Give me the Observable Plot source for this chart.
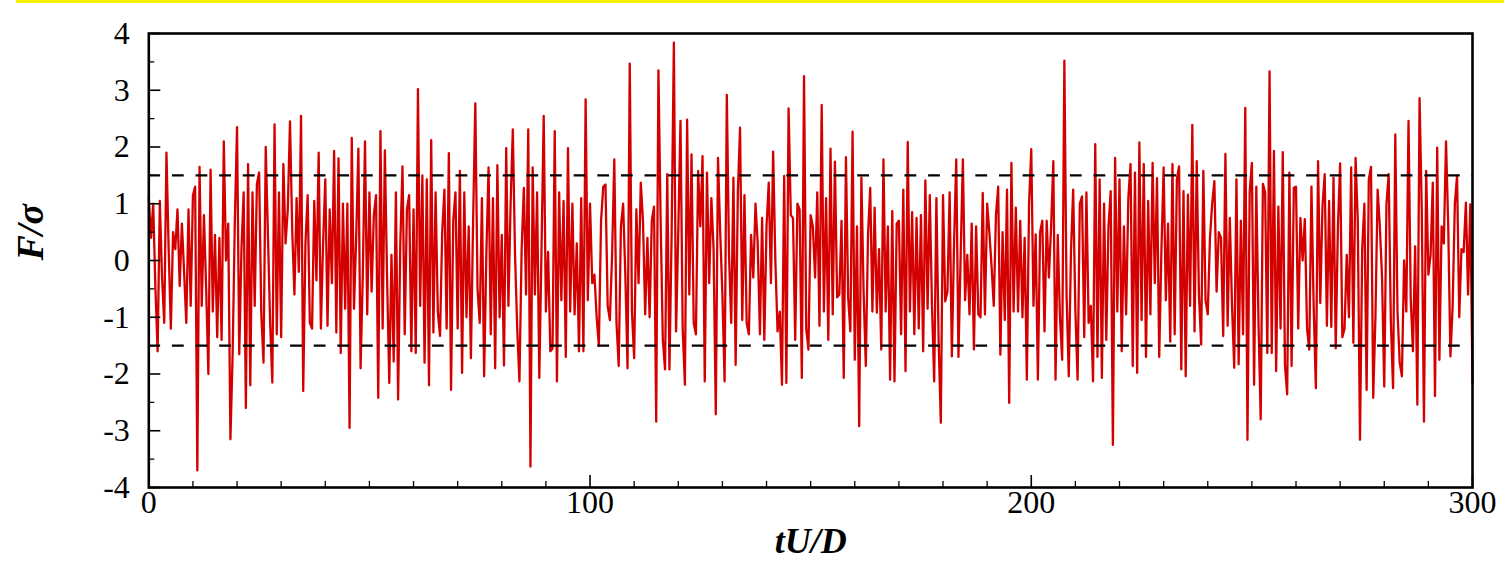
<!DOCTYPE html>
<html><head><meta charset="utf-8">
<script src="https://cdn.jsdelivr.net/npm/d3@7"></script>
<script src="https://cdn.jsdelivr.net/npm/@observablehq/plot@0.6"></script>
<style>
html,body{margin:0;padding:0;background:#fff;}
#wrap{position:relative;width:1504px;height:561px;overflow:hidden;background:#fff;}
#chart{position:absolute;left:0;top:0;}
#topline{position:absolute;left:16px;top:0;width:1488px;height:3px;background:#f3f000;z-index:2;}
</style></head><body>
<div id="wrap"><div id="chart"></div><div id="topline"></div></div>
<script>
// time step between samples (tU/D)
const dt = 0.5;
// F/sigma samples, t = 0 ... 300
const forceRatio = [
 1.1, 0.4, 1.0, -0.5, -1.6, 1.05, -0.3, -1.1, 1.9, 0.2,
 -1.2, 0.5, 0.2, 0.9, -0.45, 0.65, -0.2, -1.1, 0.9, -0.8,
 1.15, 1.3, -3.7, 1.65, -0.8, 0.8, -0.5, -2.0, 1.6, -0.9,
 0.45, -1.35, 0.4, -1.4, 2.1, 0.0, 0.65, -3.15, -1.65, 0.7,
 2.35, -1.65, 0.2, 1.2, -2.6, 1.7, -2.2, 1.2, -0.8, 1.35,
 1.55, -0.95, -1.8, 2.0, 0.45, -1.1, -2.15, 2.4, -1.3, 1.2,
 -1.35, 1.7, 0.3, 0.9, 2.45, 0.55, -0.6, 1.1, -0.2, 2.55,
 -2.3, 0.3, 1.15, -1.1,
 -1.2, 1.05, -0.35, 1.9, -1.2, 0.3, 1.43, -1.15, 0.9, -0.4,
 1.93, -1.27, 1.8, -1.63, 1.0, -0.85, 1.0, -2.95, 2.16, -0.85,
 0.4, 1.97, -1.9, -0.25, 2.1, -0.95, 1.2, -0.55, 0.8, 1.15,
 -2.42, 2.28, -1.2, 1.94, -0.3, -2.16, 0.1, -1.78, 1.2, -2.45,
 0.3, 1.66, -1.3, 0.9, 1.15, -1.6, 0.9, -1.63, 3.02, -0.8,
 1.5, -1.8, 1.43, -2.2, 2.12, -1.27, 1.2, -0.9, -1.33, 0.5,
 1.25, -1.2, 1.89, -2.28, 0.7, 1.2, -1.2, 1.58, -1.98, 1.2,
 -1.0, 0.6,
 -1.72, 0.7, 2.77, -0.5, -1.1, 1.1, -2.04, 0.1, 1.64, -1.3,
 1.1, -1.9, 1.68, -1.0, 0.45, -1.85, 1.98, -0.8, 1.0, 2.31,
 0.1, -1.2, -2.13, 0.2, 1.28, -0.6, 2.31, -3.63, 1.64, -0.6,
 1.2, -2.07, 0.2, 2.55, -0.9, 0.15, -1.6, -1.55, 2.28, -2.13,
 1.2, -0.7, 1.05, -1.7, 1.98, -0.9, 1.0, -0.95, 0.3, -1.6,
 1.1, -1.6, 2.84, -0.7, 1.0, -0.4, -0.25, -1.0, -1.5, 0.7,
 1.3, 1.34, -0.8, -1.05, 0.1, 1.78, -1.1, -1.86, 0.6, 1.0,
 -0.25, -1.9,
 3.47, -0.9, -1.72, 0.9, -0.4, 1.37, 0.7, -0.95, 0.4, -1.0,
 0.7, 0.95, -2.84, 3.35, 0.7, -1.4, -1.92, 1.52, -1.92, 0.5,
 3.84, -1.25, 0.5, 2.46, -1.2, -2.19, 2.48, -0.6, 1.87, -1.1,
 -1.3, 1.58, 0.6, 1.84, -2.13, 1.55, -0.4, 1.1, 0.2, -2.71,
 1.81, 0.5, -0.6, -2.13, 2.92, 0.1, -1.1, 1.46, -1.84, 1.2,
 2.34, -1.05, 1.15, -1.1, -1.3, 0.45, -0.3, 1.0, 0.3, -1.3,
 0.75, -1.4, 0.6, 1.37, -0.4, 1.92, 0.0, -1.25, -0.9, -2.19,
 1.49, -2.16,
 2.68, 0.8, 0.75, -1.4, 1.0, 0.9, -2.07, 3.25, -1.2, -1.57,
 0.8, 0.6, -0.3, 1.2, -1.15, 2.74, -0.9, 1.1, -1.4, 1.97,
 -0.95, 1.74, -0.65, -0.6, 0.7, -2.07, 1.82, -0.65, -1.25, 2.27,
 -1.75, 0.6, -2.92, 1.46, -0.55, -1.86, 0.45, 1.28, -0.9, 0.93,
 -0.92, 0.2, -1.57, 1.78, -0.9, 0.6, -2.1, 0.87, -2.13, 0.65,
 0.7, -1.3, 1.25, -1.95, 2.09, -0.9, 0.85, -1.3, 0.75, -1.2,
 0.8, -1.6, 1.41, -0.85, 1.15, -0.8, -2.13, 1.1, -1.4, -2.86,
 1.15, -0.72,
 -0.55, 1.2, -1.69, 0.3, 1.78, -1.7, 0.1, 1.78, -0.7, 0.1,
 -0.95, 0.65, -1.57, 0.6, -0.95, -1.0, 1.19, -0.95, 1.0, 0.5,
 -0.1, -0.8, 0.8, 1.3, -1.66, 0.5, -1.05, 1.25, -2.51, 1.72,
 -0.9, 0.93, -0.9, 0.7, -1.0, 0.4, -2.1, 1.0, 1.96, -0.8,
 0.46, -2.1, 0.5, 0.7, -1.25, 0.7, -0.3, 0.6, 1.75, -2.1,
 0.45, -1.0, -1.75, 3.52, -0.6, -2.04, 0.16, 1.25, -0.9, -2.1,
 1.0, 1.13, -1.35, 1.2, -1.1, -0.8, -2.13, 2.05, -1.7, 1.43,
 -2.07, 1.0,
 -1.4, 0.6, 1.22, -3.25, 1.81, -0.9, 1.43, -1.6, 0.6, -0.95,
 1.1, 1.7, -1.86, 1.55, -1.98, 2.08, -1.05, 1.7, -1.7, 1.05,
 -0.95, 1.72, -0.4, 1.45, -1.7, 0.2, 1.64, -0.7, 0.65, -1.43,
 1.7, -1.3, 1.43, 1.66, -1.92, 1.22, -2.04, 1.16, -0.8, 2.39,
 -1.25, 1.75, -0.6, -1.48, 1.58, -0.7, -0.95, 0.4, 1.0, 1.4,
 -0.55, 0.5, 0.4, -1.33, 1.88, -1.15, 0.75, -0.8, -1.89, 1.43,
 -1.83, 0.7, -1.3, 2.69, -3.16, 1.2, 1.72, -2.19, 1.3, -1.1,
 -2.8, 1.35,
 1.2, -1.63, 3.33, -1.63, 1.93, -1.95, 0.95, -1.2, 1.91, -1.85,
 -2.36, 1.55, -1.86, 1.28, 1.3, -1.2, 0.75, 0.0, 0.73, -1.2,
 -1.57, 1.3, -0.8, -2.25, 1.75, -0.75, 0.95, 1.52, -1.15, 1.05,
 -1.17, 1.46, -1.55, 0.6, 1.71, -1.35, -1.2, 0.1, -1.0, 1.64,
 -1.45, 1.81, 0.7, -3.16, 0.2, 1.0, -2.28, 1.43, 1.65, -2.42,
 -1.0, 1.25, 0.6, -0.3, -2.22, 1.0, 1.52, -1.1, -2.25, 2.22,
 -0.9, -1.8, -2.04, 0.0, -0.9, 2.46, -0.67, -1.6, 0.25, -2.54,
 2.86, 0.9,
 -2.84, 1.58, -0.25, 0.1, 1.37, -2.39, 1.99, -1.75, 0.6, 0.3,
 2.1, 0.6, -1.69, -0.8, 1.0, 1.49, -1.0, 0.2, 0.15, 1.02,
 -0.6, 0.99, -2.16
];
// dashed reference levels
const thresholds = [1.5, -1.5];
// axis ticks
const xMajorTicks = [0, 100, 200, 300];
const xMinorTicks = [10, 20, 30, 40, 50, 60, 70, 80, 90, 110, 120, 130, 140, 150, 160, 170, 180, 190,
                     210, 220, 230, 240, 250, 260, 270, 280, 290];
const yMajorTicks = [-4, -3, -2, -1, 0, 1, 2, 3, 4];
const yMinorTicks = [-3.5, -2.5, -1.5, -0.5, 0.5, 1.5, 2.5, 3.5];
const xTitle = "tU/D";
const yTitle = "F/σ";

const W = 1504, H = 561, mL = 148.3, mR = 32, mT = 33, mB = 74;
const plotW = W - mL - mR, plotH = H - mT - mB;
const series = forceRatio.map((f, i) => ({t: i * dt, f}));
const serif = "'Liberation Serif', 'Times New Roman', Times, serif";

const chart = Plot.plot({
  width: W, height: H,
  marginLeft: mL, marginRight: mR, marginTop: mT, marginBottom: mB,
  style: {fontFamily: serif, background: "white", color: "black", overflow: "visible"},
  x: {domain: [0, 300], label: null},
  y: {domain: [-4, 4], label: null},
  marks: [
    Plot.lineY(series, {x: "t", y: "f", stroke: "#d40000", strokeWidth: 2.3}),
    Plot.ruleY(thresholds, {stroke: "black", strokeWidth: 2.2, strokeDasharray: "11.8 11.83"}),
    Plot.tickY(yMajorTicks, {stroke: "black", strokeWidth: 1.6, insetRight: plotW - 12}),
    Plot.tickY(yMinorTicks, {stroke: "black", strokeWidth: 1.3, insetRight: plotW - 6}),
    Plot.tickX(xMajorTicks, {stroke: "black", strokeWidth: 1.6, insetTop: plotH - 12}),
    Plot.tickX(xMinorTicks, {stroke: "black", strokeWidth: 1.3, insetTop: plotH - 6}),
    Plot.frame({stroke: "black", strokeWidth: 2.6}),
    Plot.axisY(yMajorTicks, {tickSize: 0, tickPadding: 19, fontSize: 32, tickFormat: d => String(d), label: null}),
    Plot.axisX(xMajorTicks, {tickSize: 0, tickPadding: 3, fontSize: 32, tickFormat: d => String(d), label: null}),
    Plot.text([xTitle], {frameAnchor: "bottom", dy: 54, fontSize: 36, fontWeight: "bold", fontStyle: "italic",
                         lineAnchor: "middle", fill: "black"}),
    Plot.text([yTitle], {frameAnchor: "left", dx: -118, rotate: -90, fontSize: 38, fontWeight: "bold",
                         fontStyle: "italic", lineAnchor: "middle", fill: "black"})
  ]
});
document.getElementById("chart").appendChild(chart);
</script>
</body></html>
